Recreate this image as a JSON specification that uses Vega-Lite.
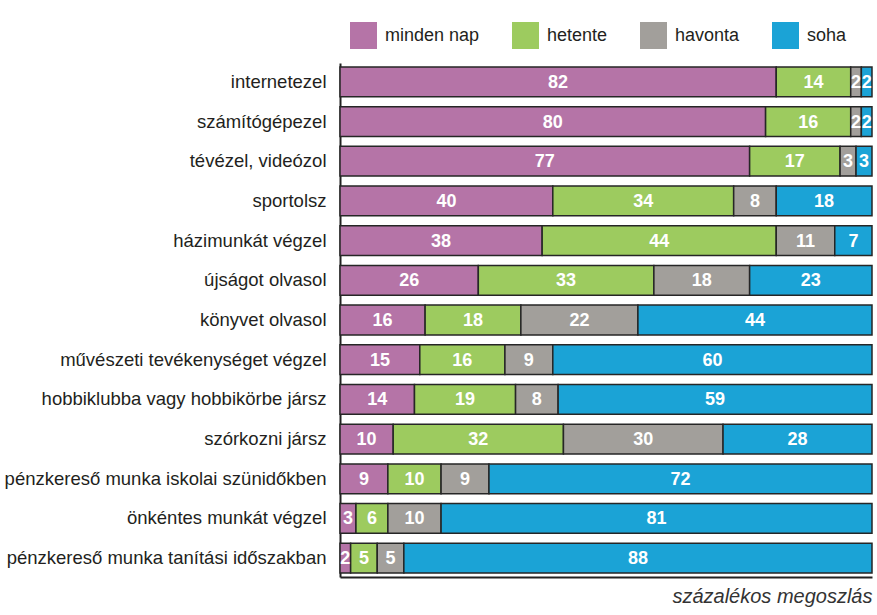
{
  "$schema": "https://vega.github.io/schema/vega-lite/v6.json",
  "width": 532,
  "height": 514,
  "autosize": {"type": "none"},
  "padding": {"left": 340, "top": 63, "right": 5, "bottom": 38},
  "background": "white",
  "config": {"view": {"stroke": null}, "font": "Liberation Sans"},
  "data": {
    "values": [
      {"a": "internetezel", "minden nap": 82, "hetente": 14, "havonta": 2, "soha": 2},
      {"a": "számítógépezel", "minden nap": 80, "hetente": 16, "havonta": 2, "soha": 2},
      {"a": "tévézel, videózol", "minden nap": 77, "hetente": 17, "havonta": 3, "soha": 3},
      {"a": "sportolsz", "minden nap": 40, "hetente": 34, "havonta": 8, "soha": 18},
      {"a": "házimunkát végzel", "minden nap": 38, "hetente": 44, "havonta": 11, "soha": 7},
      {"a": "újságot olvasol", "minden nap": 26, "hetente": 33, "havonta": 18, "soha": 23},
      {"a": "könyvet olvasol", "minden nap": 16, "hetente": 18, "havonta": 22, "soha": 44},
      {"a": "művészeti tevékenységet végzel", "minden nap": 15, "hetente": 16, "havonta": 9, "soha": 60},
      {"a": "hobbiklubba vagy hobbikörbe jársz", "minden nap": 14, "hetente": 19, "havonta": 8, "soha": 59},
      {"a": "szórkozni jársz", "minden nap": 10, "hetente": 32, "havonta": 30, "soha": 28},
      {"a": "pénzkereső munka iskolai szünidőkben", "minden nap": 9, "hetente": 10, "havonta": 9, "soha": 72},
      {"a": "önkéntes munkát végzel", "minden nap": 3, "hetente": 6, "havonta": 10, "soha": 81},
      {"a": "pénzkereső munka tanítási időszakban", "minden nap": 2, "hetente": 5, "havonta": 5, "soha": 88}
    ]
  },
  "transform": [
    {"fold": ["minden nap", "hetente", "havonta", "soha"], "as": ["cat", "val"]},
    {"calculate": "indexof(['minden nap','hetente','havonta','soha'], datum.cat)", "as": "ord"},
    {"stack": "val", "groupby": ["a"], "sort": [{"field": "ord", "order": "ascending"}], "as": ["x0", "x1"]},
    {"calculate": "(datum.x0 + datum.x1) / 2", "as": "mid"}
  ],
  "encoding": {
    "y": {
      "field": "a",
      "type": "nominal",
      "sort": null,
      "scale": {"paddingInner": 0.25, "paddingOuter": 0.1},
      "axis": {
        "title": null,
        "domain": true,
        "domainColor": "#222222",
        "domainWidth": 2,
        "ticks": false,
        "labelPadding": 14,
        "labelFontSize": 18.5,
        "labelColor": "#231f20",
        "labelLimit": 400,
        "labelFont": "Liberation Sans"
      }
    }
  },
  "layer": [
    {
      "mark": {"type": "bar", "stroke": "#262626", "strokeWidth": 1.5},
      "encoding": {
        "x": {
          "field": "x0",
          "type": "quantitative",
          "scale": {"domain": [0, 100], "nice": false},
          "axis": {
            "title": "százalékos megoszlás",
            "titleFont": "Liberation Sans",
            "titleFontStyle": "italic",
            "titleFontWeight": "normal",
            "titleFontSize": 20,
            "titleColor": "#333333",
            "titleAnchor": "end",
            "titleAlign": "right",
            "titlePadding": 9,
            "labels": false,
            "ticks": false,
            "grid": false,
            "domain": true,
            "domainColor": "#222222",
            "domainWidth": 2
          }
        },
        "x2": {"field": "x1"},
        "color": {
          "field": "cat",
          "type": "nominal",
          "scale": {
            "domain": ["minden nap", "hetente", "havonta", "soha"],
            "range": ["#b574a7", "#9dcb5f", "#a29f9b", "#1ba3d6"]
          },
          "legend": {
            "title": null,
            "orient": "none",
            "legendX": 10,
            "legendY": -41,
            "direction": "horizontal",
            "symbolType": "square",
            "symbolSize": 729,
            "symbolStrokeWidth": 0,
            "symbolOpacity": 1,
            "labelFontSize": 18,
            "labelFont": "Liberation Sans",
            "labelColor": "#231f20",
            "labelOffset": 8,
            "columnPadding": 32
          }
        }
      }
    },
    {
      "mark": {"type": "text", "color": "white", "fontWeight": "bold", "fontSize": 18, "baseline": "middle", "align": "center", "dy": 1},
      "encoding": {
        "x": {
          "field": "mid",
          "type": "quantitative",
          "axis": {
            "title": "százalékos megoszlás",
            "titleFont": "Liberation Sans",
            "titleFontStyle": "italic",
            "titleFontWeight": "normal",
            "titleFontSize": 20,
            "titleColor": "#333333",
            "titleAnchor": "end",
            "titleAlign": "right",
            "titlePadding": 9,
            "labels": false,
            "ticks": false,
            "grid": false,
            "domain": true,
            "domainColor": "#222222",
            "domainWidth": 2
          }
        },
        "text": {"field": "val", "type": "quantitative"}
      }
    }
  ]
}
